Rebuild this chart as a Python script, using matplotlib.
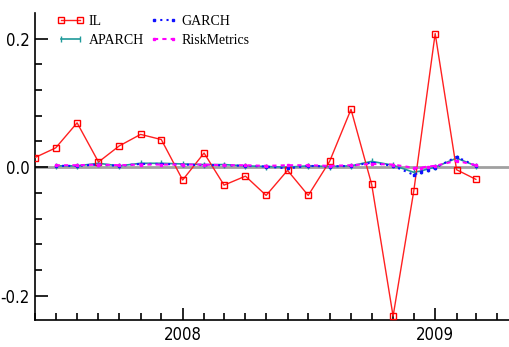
import matplotlib
matplotlib.use("Agg")
import matplotlib.pyplot as plt
import matplotlib.dates as mdates
import pandas as pd

# monthly IL series
il_dates = pd.date_range("2007-06-01", "2009-03-01", freq="MS")
il_values = [0.015, 0.030, 0.069, 0.008, 0.033, 0.051, 0.043, -0.020,
             0.022, -0.028, -0.014, -0.044, -0.005, -0.044, 0.009, 0.090,
             -0.027, -0.232, -0.037, 0.208, -0.004, -0.019]

# model forecasts (a few extra points in december 2008)
model_dates = pd.to_datetime([
    "2007-07-01", "2007-08-01", "2007-09-01", "2007-10-01", "2007-11-01",
    "2007-12-01", "2008-01-01", "2008-02-01", "2008-03-01", "2008-04-01",
    "2008-05-01", "2008-06-01", "2008-07-01", "2008-08-01", "2008-09-01",
    "2008-10-01", "2008-11-01", "2008-12-01", "2008-12-11", "2008-12-21",
    "2009-01-01", "2009-02-01", "2009-03-01"])
garch = [0.002, 0.002, 0.004, 0.002, 0.005, 0.005, 0.004, 0.003, 0.003,
         0.002, 0.001, -0.002, 0.002, 0.001, 0.002, 0.007, 0.002, -0.012,
         -0.007, -0.004, -0.001, 0.016, 0.002]
aparch = [0.002, 0.002, 0.006, 0.002, 0.006, 0.006, 0.005, 0.004, 0.004,
          0.002, 0.001, 0.000, 0.002, 0.001, 0.002, 0.009, 0.003, -0.008,
          -0.006, -0.003, 0.000, 0.014, 0.002]
riskmetrics = [0.003, 0.003, 0.004, 0.003, 0.004, 0.004, 0.004, 0.004,
               0.003, 0.003, 0.002, 0.003, 0.003, 0.002, 0.003, 0.005,
               0.004, -0.001, -0.001, 0.001, 0.002, 0.010, 0.003]

plt.rcParams["font.family"] = ["Liberation Serif", "DejaVu Serif"]

fig = plt.figure(figsize=(5.09, 3.47), dpi=100)
ax = fig.add_axes([0.0688, 0.0778, 0.9312, 0.8847])

ax.axhline(0, color="#a0a0a0", lw=2, zorder=1)

l_il, = ax.plot(il_dates, il_values, color="#ff2020", lw=1.0, marker="s",
                ms=5, mfc="none", mec="#ff0000", mew=1.0, label="IL", zorder=3)
l_garch, = ax.plot(model_dates, garch, color="#1010ff", lw=1.5,
                   ls=(0, (1, 2)), marker="s", ms=2, label="GARCH", zorder=4)
l_aparch, = ax.plot(model_dates, aparch, color="#1f9a9a", lw=1.2, ls="-",
                    marker="|", ms=4, label="APARCH", zorder=2)
l_rm, = ax.plot(model_dates, riskmetrics, color="#ff00ff", lw=1.5,
                ls=(0, (2, 2)), marker="s", ms=2, label="RiskMetrics", zorder=5)

ax.set_xlim(pd.Timestamp("2007-06-01"), pd.Timestamp("2009-04-18"))
ax.set_ylim(-0.238, 0.24)

ax.spines["top"].set_visible(False)
ax.spines["right"].set_visible(False)
ax.spines["left"].set_linewidth(1.2)
ax.spines["bottom"].set_linewidth(1.2)

ax.xaxis.set_major_locator(mdates.YearLocator())
ax.xaxis.set_major_formatter(mdates.DateFormatter("%Y"))
ax.xaxis.set_minor_locator(mdates.MonthLocator())
ax.set_yticks([-0.2, 0.0, 0.2])
ax.set_yticklabels(["-0.2", "0.0", "0.2"])
ax.set_yticks([-0.16, -0.12, -0.08, -0.04, 0.04, 0.08, 0.12, 0.16], minor=True)

ax.tick_params(axis="both", which="major", direction="in", length=9,
               width=1.2, labelsize=12, pad=4)
ax.tick_params(axis="both", which="minor", direction="in", length=5, width=1.2)
for lab in ax.get_xticklabels() + ax.get_yticklabels():
    lab.set_family("DejaVu Sans")
    lab.set_stretch("condensed")

ax.legend(handles=[l_il, l_aparch, l_garch, l_rm], ncol=2, loc="upper left",
          bbox_to_anchor=(0.025, 1.025), frameon=False, fontsize=10,
          numpoints=2, handlelength=2.0, handletextpad=0.3,
          columnspacing=0.4, labelspacing=0.4, borderpad=0.2)

fig.savefig("out.png", dpi=100)
